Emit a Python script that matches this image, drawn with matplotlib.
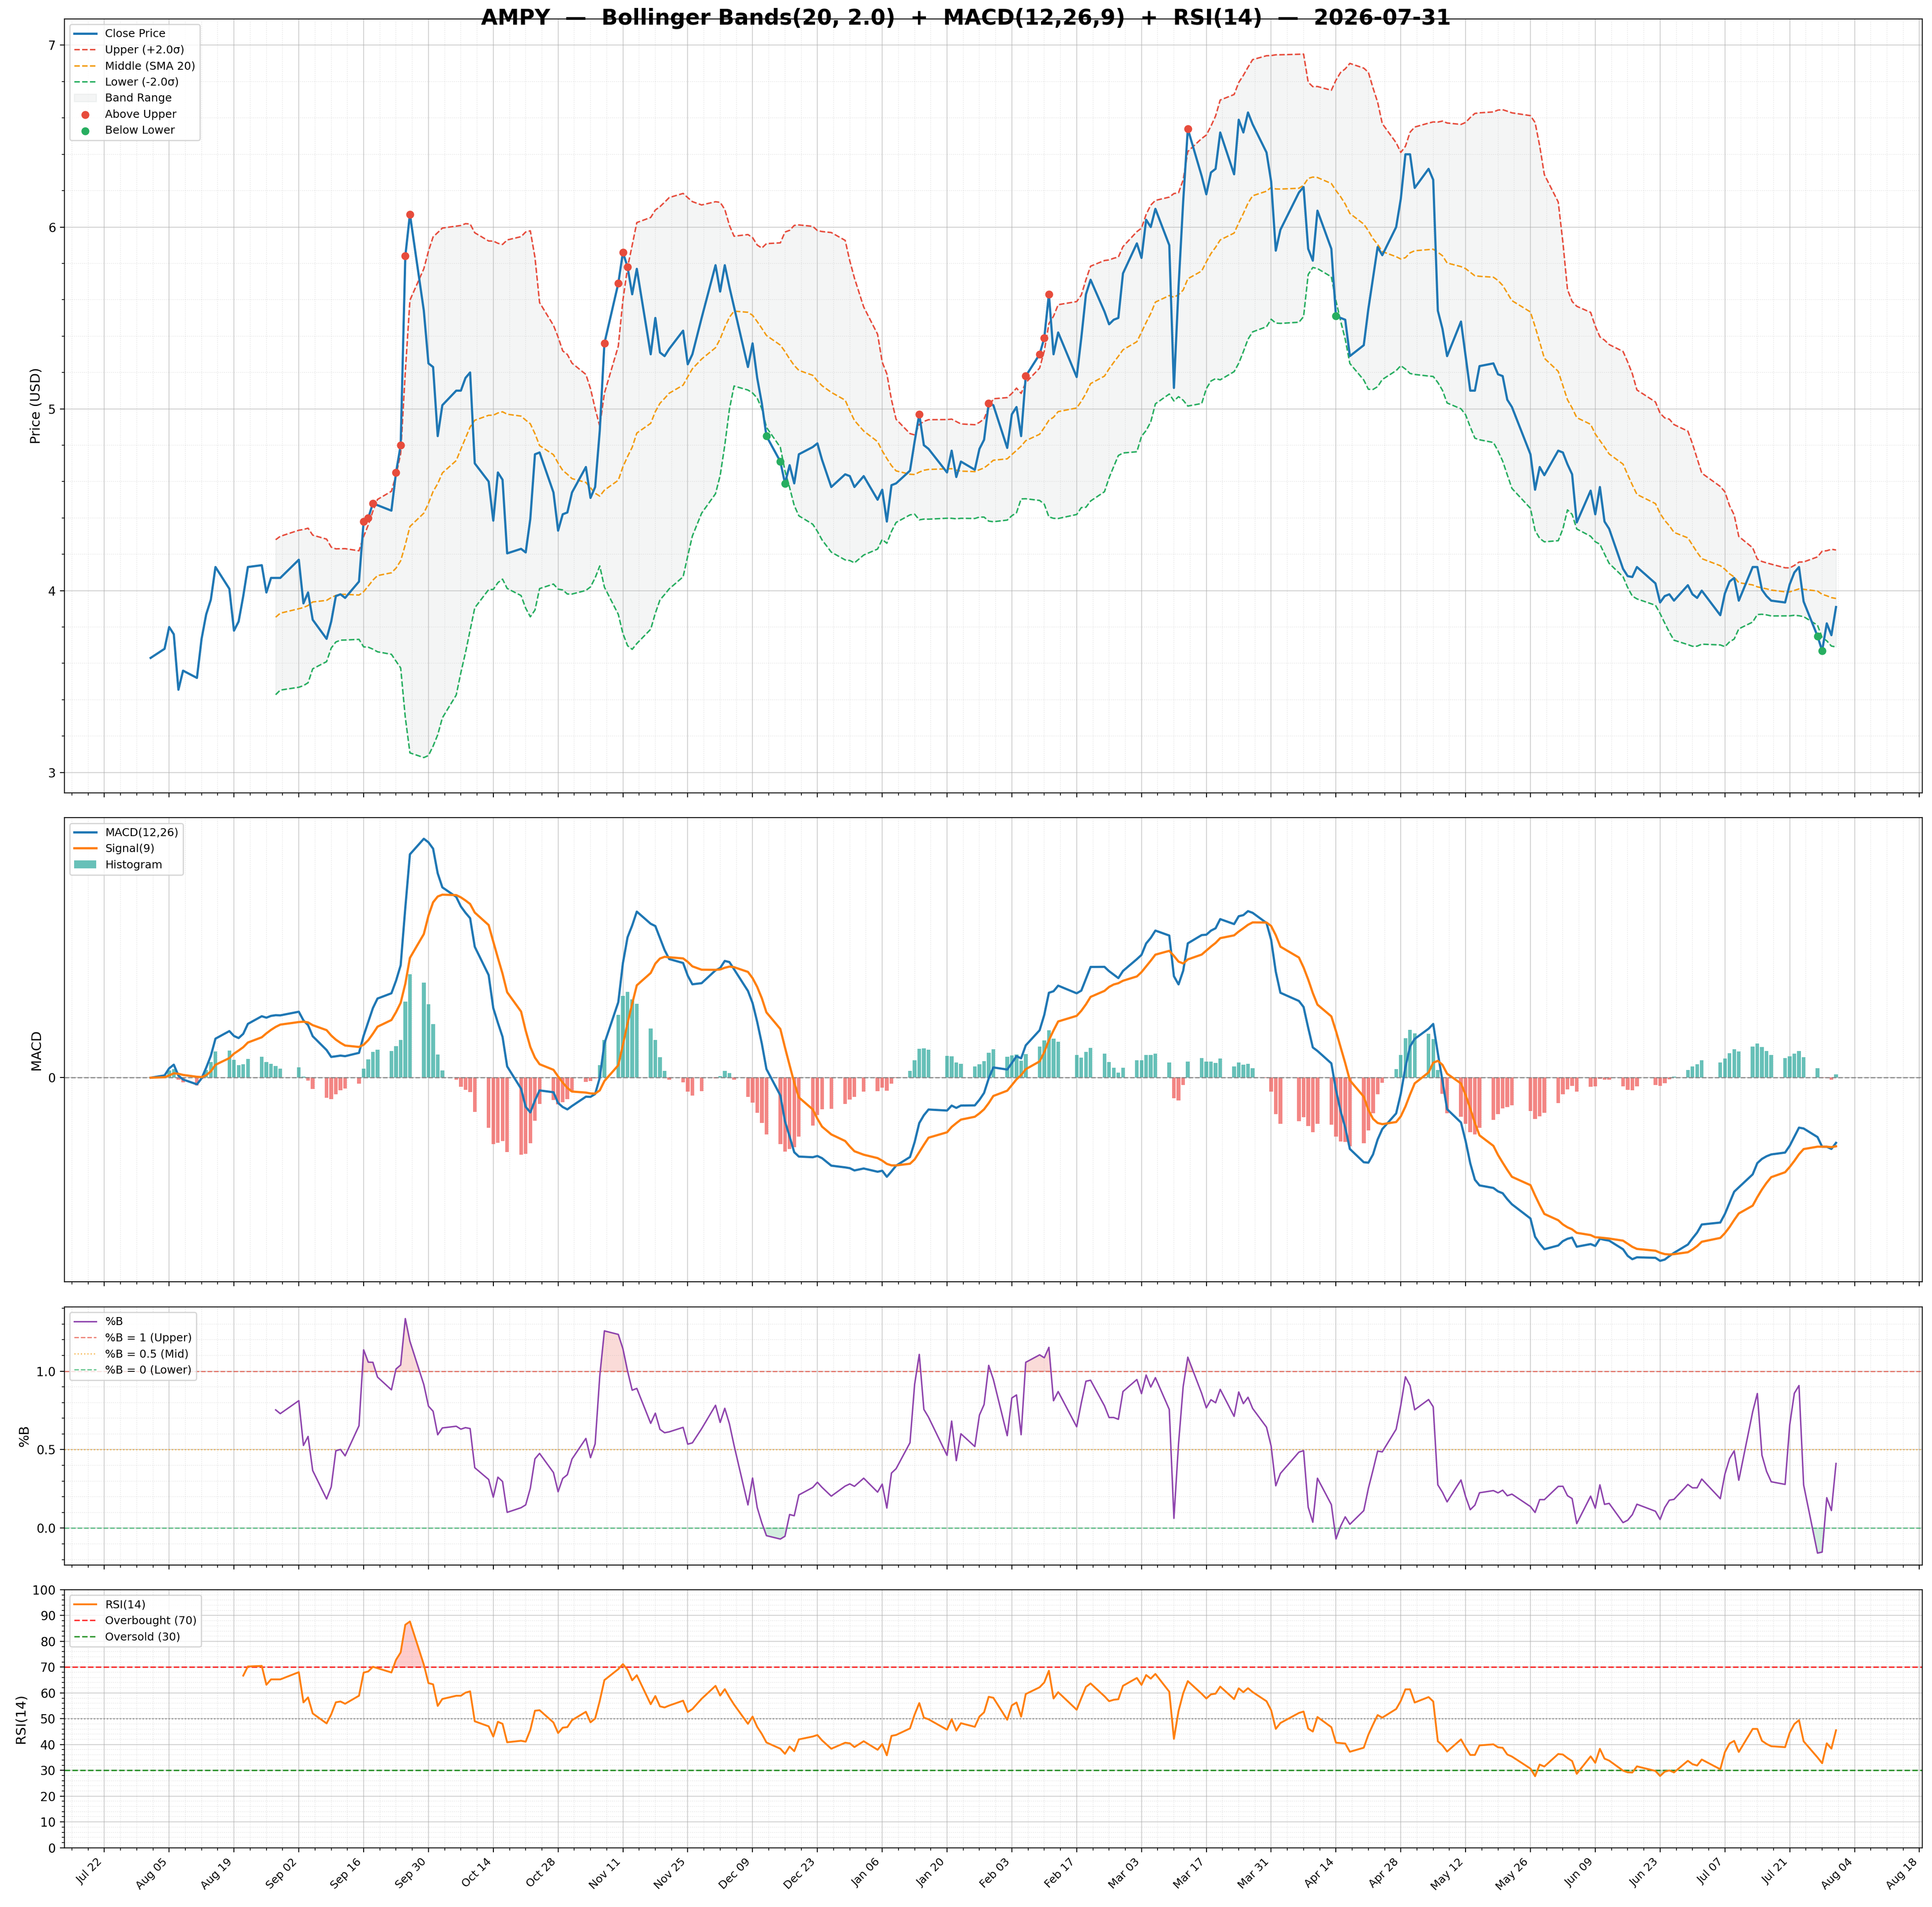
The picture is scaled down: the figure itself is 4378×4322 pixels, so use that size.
import matplotlib
matplotlib.use('Agg')
import matplotlib.pyplot as plt
import matplotlib.dates as mdates
from matplotlib.ticker import AutoMinorLocator, FixedLocator, NullLocator, MultipleLocator
import numpy as np
import pandas as pd

# indicator settings (from the title)
ticker = 'AMPY'
bb_window, bb_k = 20, 2.0
macd_fast, macd_slow, macd_sig = 12, 26, 9
rsi_window = 14
as_of = '2026-07-31'

# exchange holidays inside the window (no bar on these days)
market_holidays = ['2025-09-01', '2025-11-27', '2025-12-25', '2026-01-01',
                   '2026-01-19', '2026-02-16', '2026-04-03', '2026-05-25',
                   '2026-06-19', '2026-07-03']
trade_days = pd.bdate_range('2025-08-01', as_of, freq='C', holidays=market_holidays)

# daily close, one row per week
close_prices = [
    3.63,
    3.68, 3.80, 3.76, 3.455, 3.56,
    3.52, 3.735, 3.87, 3.95, 4.13,
    4.01, 3.78, 3.83, 3.97, 4.13,
    4.14, 3.99, 4.07, 4.07, 4.07,
    4.17, 3.93, 3.99, 3.84,            # Sep
    3.735, 3.83, 3.97, 3.98, 3.96,
    4.05, 4.38, 4.40, 4.48, 4.47,
    4.44, 4.65, 4.80, 5.84, 6.07,
    5.54, 5.25, 5.23, 4.85, 5.02,
    5.10, 5.10, 5.17, 5.20, 4.70,      # Oct
    4.60, 4.385, 4.65, 4.61, 4.205,
    4.23, 4.21, 4.395, 4.75, 4.76,
    4.54, 4.33, 4.42, 4.43, 4.54,
    4.68, 4.51, 4.57, 4.88, 5.36,      # Nov
    5.69, 5.86, 5.78, 5.63, 5.77,
    5.30, 5.50, 5.31, 5.29, 5.33,
    5.43, 5.245, 5.30, 5.50,
    5.79, 5.645, 5.79, 5.67, 5.56,     # Dec
    5.23, 5.36, 5.17, 5.03, 4.85,
    4.71, 4.59, 4.69, 4.59, 4.75,
    4.79, 4.81, 4.72, 4.57,
    4.64, 4.63, 4.57, 4.63,
    4.50, 4.555, 4.38, 4.58, 4.59,     # Jan
    4.66, 4.82, 4.97, 4.80, 4.78,
    4.65, 4.77, 4.625, 4.71,
    4.665, 4.78, 4.83, 5.03, 5.02,
    4.785, 4.97, 5.01, 4.85, 5.18,     # Feb
    5.30, 5.39, 5.63, 5.30, 5.42,
    5.175, 5.39, 5.63, 5.71,
    5.535, 5.465, 5.49, 5.50, 5.745,
    5.91, 5.83, 6.04, 6.00, 6.10,      # Mar
    5.90, 5.115, 5.67, 6.14, 6.54,
    6.28, 6.18, 6.30, 6.32, 6.52,
    6.29, 6.59, 6.52, 6.63, 6.565,
    6.41, 6.25, 5.87, 5.985,
    6.19, 6.22, 5.88, 5.815, 6.09,     # Apr
    5.88, 5.51, 5.50, 5.49, 5.29,
    5.35, 5.55, 5.72, 5.89, 5.845,
    6.00, 6.155, 6.40, 6.40, 6.215,
    6.32, 6.26, 5.54, 5.44, 5.29,      # May
    5.48, 5.29, 5.10, 5.10, 5.235,
    5.25, 5.19, 5.18, 5.05, 5.01,
    4.75, 4.555, 4.68, 4.635,
    4.77, 4.76, 4.695, 4.64, 4.375,    # Jun
    4.55, 4.42, 4.57, 4.38, 4.34,
    4.12, 4.08, 4.075, 4.13,
    4.04, 3.935, 3.97, 3.98, 3.945,
    4.03, 3.98, 3.96, 4.00,
    3.865, 3.985, 4.05, 4.07, 3.945,   # Jul
    4.13, 4.13, 4.005, 3.97, 3.945,
    3.935, 4.035, 4.10, 4.13, 3.94,
    3.75, 3.67, 3.82, 3.755, 3.91,
]

# x ticks every two weeks
tick_days = pd.date_range('2025-07-22', '2026-08-18', freq='14D')

close = pd.Series(close_prices, index=trade_days)
x = trade_days.to_pydatetime()

# Bollinger
mid = close.rolling(bb_window).mean()
sd = close.rolling(bb_window).std()
upper = mid + bb_k * sd
lower = mid - bb_k * sd
pct_b = (close - lower) / (upper - lower)

# MACD
ema_f = close.ewm(span=macd_fast, adjust=False).mean()
ema_s = close.ewm(span=macd_slow, adjust=False).mean()
macd = ema_f - ema_s
signal = macd.ewm(span=macd_sig, adjust=False).mean()
hist = macd - signal

# RSI (Wilder)
delta = close.diff()
gain = delta.clip(lower=0)
loss = -delta.clip(upper=0)
avg_gain = gain.ewm(alpha=1 / rsi_window, adjust=False, min_periods=rsi_window).mean()
avg_loss = loss.ewm(alpha=1 / rsi_window, adjust=False, min_periods=rsi_window).mean()
rsi = 100 - 100 / (1 + avg_gain / avg_loss)

above = (close > upper).values
below = (close < lower).values

fig = plt.figure(figsize=(4378 / 200, 4322 / 200), dpi=200)
gs = fig.add_gridspec(4, 1, height_ratios=[3, 1.8, 1, 1],
                      left=0.0333, right=0.995, top=0.9901, bottom=0.0311,
                      hspace=0.0568)
ax1 = fig.add_subplot(gs[0])
ax2 = fig.add_subplot(gs[1], sharex=ax1)
ax3 = fig.add_subplot(gs[2], sharex=ax1)
ax4 = fig.add_subplot(gs[3], sharex=ax1)


def style_grid(ax, minor_y=True):
    ax.xaxis.set_minor_locator(AutoMinorLocator())
    if minor_y:
        ax.yaxis.set_minor_locator(AutoMinorLocator())
    else:
        ax.yaxis.set_minor_locator(NullLocator())
    ax.grid(True, which='major', color='#b0b0b0', alpha=0.55, linewidth=0.8)
    ax.grid(True, which='minor', color='#b0b0b0', alpha=0.35, linestyle=':', linewidth=0.6)
    ax.tick_params(axis='y', labelsize=10)


# ---- price + bands
ax1.plot(x, close.values, color='#1f77b4', lw=1.8, label='Close Price', zorder=4)
ax1.plot(x, upper.values, color='#e74c3c', ls='--', lw=1.2, label=f'Upper (+{bb_k}σ)', zorder=3)
ax1.plot(x, mid.values, color='#f39c12', ls='--', lw=1.2, label=f'Middle (SMA {bb_window})', zorder=3)
ax1.plot(x, lower.values, color='#27ae60', ls='--', lw=1.2, label=f'Lower (-{bb_k}σ)', zorder=3)
ax1.fill_between(x, lower.values, upper.values, color='#95a5a6', alpha=0.1, label='Band Range', zorder=1)
ax1.scatter(x[above], close.values[above], color='#e74c3c', s=30, zorder=5, label='Above Upper')
ax1.scatter(x[below], close.values[below], color='#27ae60', s=30, zorder=5, label='Below Lower')
ax1.set_ylabel('Price (USD)', fontsize=11)
ax1.yaxis.set_major_locator(MultipleLocator(1))
ax1.legend(loc='upper left', fontsize=9)
style_grid(ax1)

# ---- MACD
bar_cols = np.where(hist.values >= 0, '#26a69a', '#ef5350')
ax2.bar(x, hist.values, width=0.8, color=bar_cols, alpha=0.7, label='Histogram', zorder=2)
ax2.plot(x, macd.values, color='#1f77b4', lw=1.8, label=f'MACD({macd_fast},{macd_slow})', zorder=4)
ax2.plot(x, signal.values, color='#ff7f0e', lw=1.8, label=f'Signal({macd_sig})', zorder=4)
ax2.axhline(0, color='gray', ls='--', lw=1, alpha=0.8, zorder=3)
ax2.set_yticks([0])
ax2.set_ylabel('MACD', fontsize=11)
ax2.legend(loc='upper left', fontsize=9)
style_grid(ax2, minor_y=False)

# ---- %B
ax3.plot(x, pct_b.values, color='#8e44ad', lw=1.2, label='%B', zorder=4)
ax3.axhline(1, color='#e74c3c', ls='--', lw=1, alpha=0.7, label='%B = 1 (Upper)')
ax3.axhline(0.5, color='#f39c12', ls=':', lw=1, alpha=0.7, label='%B = 0.5 (Mid)')
ax3.axhline(0, color='#27ae60', ls='--', lw=1, alpha=0.7, label='%B = 0 (Lower)')
pb = pct_b.values
ax3.fill_between(x, pb, 1, where=pb > 1, color='#e74c3c', alpha=0.2, interpolate=True)
ax3.fill_between(x, pb, 0, where=pb < 0, color='#27ae60', alpha=0.2, interpolate=True)
ax3.set_yticks([0.0, 0.5, 1.0])
ax3.set_ylabel('%B', fontsize=11)
ax3.legend(loc='upper left', fontsize=9)
style_grid(ax3)

# ---- RSI
rv = rsi.values
ax4.plot(x, rv, color='#ff7f0e', lw=1.5, label=f'RSI({rsi_window})', zorder=4)
ax4.axhline(70, color='red', ls='--', lw=1.2, alpha=0.8, label='Overbought (70)')
ax4.axhline(30, color='green', ls='--', lw=1.2, alpha=0.8, label='Oversold (30)')
ax4.axhline(50, color='gray', ls=':', lw=1, alpha=0.8)
ax4.fill_between(x, rv, 70, where=rv > 70, color='red', alpha=0.2, interpolate=True)
ax4.fill_between(x, rv, 30, where=rv < 30, color='green', alpha=0.2, interpolate=True)
ax4.set_ylim(0, 100)
ax4.set_yticks(range(0, 101, 10))
ax4.set_ylabel(f'RSI({rsi_window})', fontsize=11)
ax4.legend(loc='upper left', fontsize=9)
style_grid(ax4)

# shared date axis
ax4.xaxis.set_major_locator(FixedLocator(mdates.date2num(tick_days.to_pydatetime())))
ax4.xaxis.set_major_formatter(mdates.DateFormatter('%b %d'))
ax4.xaxis.set_minor_locator(AutoMinorLocator())
for ax in (ax1, ax2, ax3):
    plt.setp(ax.get_xticklabels(), visible=False)
plt.setp(ax4.get_xticklabels(), rotation=45, ha='right', fontsize=9)

fig.suptitle(f'{ticker}  —  Bollinger Bands({bb_window}, {bb_k})  +  '
             f'MACD({macd_fast},{macd_slow},{macd_sig})  +  RSI({rsi_window})  —  {as_of}',
             fontsize=17.5, fontweight='bold', y=1 - 42.5 / 4322, va='center')

fig.savefig('out.png', dpi=200)
